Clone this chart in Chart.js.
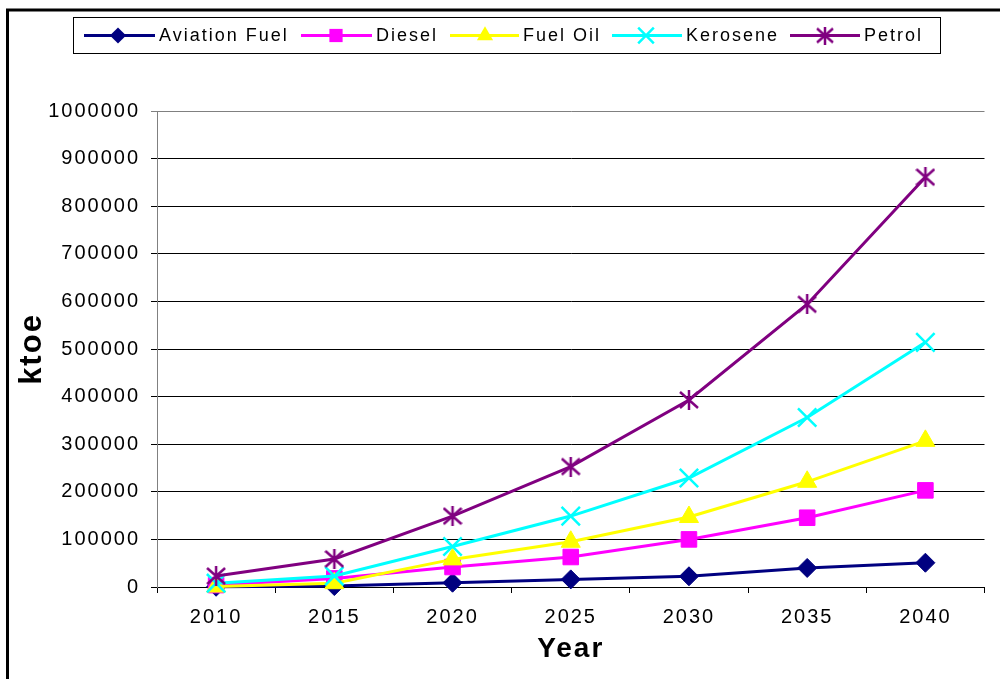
<!DOCTYPE html>
<html><head><meta charset="utf-8">
<script src="https://cdn.jsdelivr.net/npm/chart.js@4.4.1/dist/chart.umd.min.js"></script>
<style>html,body{margin:0;padding:0;background:#fff;overflow:hidden}canvas{display:block}</style>
</head><body>
<canvas id="c" width="1000" height="679"></canvas>
<script>
// ---- data ----
const years = ['2010','2015','2020','2025','2030','2035','2040'];
const aviationFuel = [500, 2000, 9000, 16000, 22500, 40000, 51000];
const diesel       = [4000, 18000, 42000, 63000, 100000, 145500, 203000];
const fuelOil      = [1000, 8000, 58000, 95000, 147000, 221000, 307000];
const kerosene     = [8000, 23000, 85000, 149000, 229000, 356000, 514000];
const petrol       = [23000, 59000, 149000, 253000, 393000, 594000, 861000];
const seriesNames  = ['Aviation Fuel', 'Diesel', 'Fuel Oil', 'Kerosene', 'Petrol'];
const yMin = 0, yMax = 1000000, yStep = 100000;
const xTitle = 'Year', yTitle = 'ktoe';

const FONT = '"Liberation Sans", Arial, sans-serif';
const colors = ['#000080', '#FF00FF', '#FFFF00', '#00FFFF', '#800080'];

function makeAsterisk(size, color, lw) {
  const c = document.createElement('canvas');
  c.width = size; c.height = size;
  const g = c.getContext('2d');
  g.strokeStyle = color; g.lineWidth = lw;
  const h = size / 2;
  g.beginPath();
  g.moveTo(h, 0); g.lineTo(h, size);
  g.moveTo(1, 2); g.lineTo(size - 1, size - 2);
  g.moveTo(size - 1, 2); g.lineTo(1, size - 2);
  g.stroke();
  return c;
}
const petrolMarker = makeAsterisk(20, colors[4], 2.5);
const petrolMarkerSmall = makeAsterisk(18, colors[4], 2.5);

const styles = [
  {pointStyle: 'rectRot', radius: 9.5, bw: 1},
  {pointStyle: 'rect', radius: 11, bw: 1},
  {pointStyle: 'triangle', radius: 11, bw: 1},
  {pointStyle: 'crossRot', radius: 13, bw: 2.5},
  {pointStyle: petrolMarker, radius: 10, bw: 1}
];
const values = [aviationFuel, diesel, fuelOil, kerosene, petrol];

const datasets = seriesNames.map((name, i) => ({
  label: name,
  data: values[i],
  borderColor: colors[i],
  backgroundColor: colors[i],
  borderWidth: 3,
  pointStyle: styles[i].pointStyle,
  pointRadius: styles[i].radius,
  pointHoverRadius: styles[i].radius,
  pointBackgroundColor: colors[i],
  pointBorderColor: colors[i],
  pointBorderWidth: styles[i].bw,
  tension: 0,
  clip: false,
  order: 5 - i
}));

const spacingPlugin = {
  id: 'spacing',
  beforeUpdate(c) { c.ctx.letterSpacing = '2px'; },
  beforeDraw(c) {
    const ctx = c.ctx;
    ctx.letterSpacing = '2px';
    ctx.save();
    ctx.fillStyle = '#fff';
    ctx.fillRect(0, 0, c.width, c.height);
    ctx.strokeStyle = '#000';
    ctx.lineWidth = 3;
    ctx.strokeRect(7.5, 10, 1200, 1200);
    ctx.restore();
  }
};

// legend drawn in the picture
const legendItems = [
  {x1: 84, x2: 155, m: 118, t: 159},
  {x1: 301, x2: 372, m: 336, t: 376},
  {x1: 450, x2: 519, m: 485, t: 523},
  {x1: 612, x2: 682, m: 646, t: 686},
  {x1: 790, x2: 860, m: 825, t: 864}
];
function drawMarker(ctx, i, x, y) {
  const r = styles[i].radius * 0.85;
  ctx.fillStyle = colors[i]; ctx.strokeStyle = colors[i];
  ctx.beginPath();
  if (i === 0) {
    ctx.moveTo(x, y - r); ctx.lineTo(x + r, y); ctx.lineTo(x, y + r); ctx.lineTo(x - r, y); ctx.closePath(); ctx.fill();
  } else if (i === 1) {
    const s = r * Math.SQRT1_2; ctx.rect(x - s, y - s, 2 * s, 2 * s); ctx.fill();
  } else if (i === 2) {
    ctx.moveTo(x, y - r); ctx.lineTo(x + r * 0.866, y + r * 0.5); ctx.lineTo(x - r * 0.866, y + r * 0.5); ctx.closePath(); ctx.fill();
  } else if (i === 3) {
    const s = r * Math.SQRT1_2; ctx.lineWidth = 2.5;
    ctx.moveTo(x - s, y - s); ctx.lineTo(x + s, y + s); ctx.moveTo(x + s, y - s); ctx.lineTo(x - s, y + s); ctx.stroke();
  } else {
    ctx.drawImage(petrolMarkerSmall, x - 9, y - 9);
  }
}
const legendPlugin = {
  id: 'boxLegend',
  afterDraw(c) {
    const ctx = c.ctx;
    ctx.save();
    ctx.strokeStyle = '#000'; ctx.lineWidth = 1;
    ctx.strokeRect(73.5, 17.5, 867, 36);
    const y = 35.5;
    legendItems.forEach((it, i) => {
      ctx.strokeStyle = colors[i]; ctx.lineWidth = 3;
      ctx.beginPath(); ctx.moveTo(it.x1, y); ctx.lineTo(it.x2, y); ctx.stroke();
      drawMarker(ctx, i, it.m, y);
      ctx.fillStyle = '#000';
      ctx.font = '18px ' + FONT;
      ctx.letterSpacing = '2px';
      ctx.textAlign = 'left'; ctx.textBaseline = 'middle';
      ctx.fillText(seriesNames[i], it.t, y + 1);
    });
    ctx.restore();
  }
};

new Chart(document.getElementById('c'), {
  type: 'line',
  data: {labels: years, datasets},
  options: {
    responsive: false,
    animation: false,
    devicePixelRatio: 1,
    layout: {padding: {top: 111, right: 15, left: 0, bottom: 0}},
    plugins: {legend: {display: false}, tooltip: {enabled: false}},
    scales: {
      x: {
        type: 'category',
        offset: true,
        grid: {offset: true, drawOnChartArea: false, drawTicks: true, tickLength: 6, color: '#000', lineWidth: 1},
        border: {color: '#000', width: 1},
        ticks: {font: {family: FONT, size: 20}, color: '#000', padding: 12, maxRotation: 0, autoSkip: false},
        title: {display: true, text: xTitle, color: '#000', font: {family: FONT, size: 28, weight: 'bold', lineHeight: 1}, padding: {top: 0, bottom: 16}},
        afterFit(s) { s.height = 92; }
      },
      y: {
        min: yMin, max: yMax,
        grid: {color: (ctx) => (ctx.tick && ctx.tick.value === yMax) ? '#808080' : '#000', lineWidth: 1, tickLength: 6, drawTicks: true},
        border: {color: '#808080', width: 1},
        ticks: {stepSize: yStep, font: {family: FONT, size: 20}, color: '#000', padding: 11, callback: (v) => String(v)},
        title: {display: true, text: yTitle, color: '#000', font: {family: FONT, size: 31, weight: 'bold', lineHeight: 1}, padding: {top: 17, bottom: 0}},
        afterFit(s) { s.width = 157; }
      }
    }
  },
  plugins: [spacingPlugin, legendPlugin]
});
</script>
</body></html>
